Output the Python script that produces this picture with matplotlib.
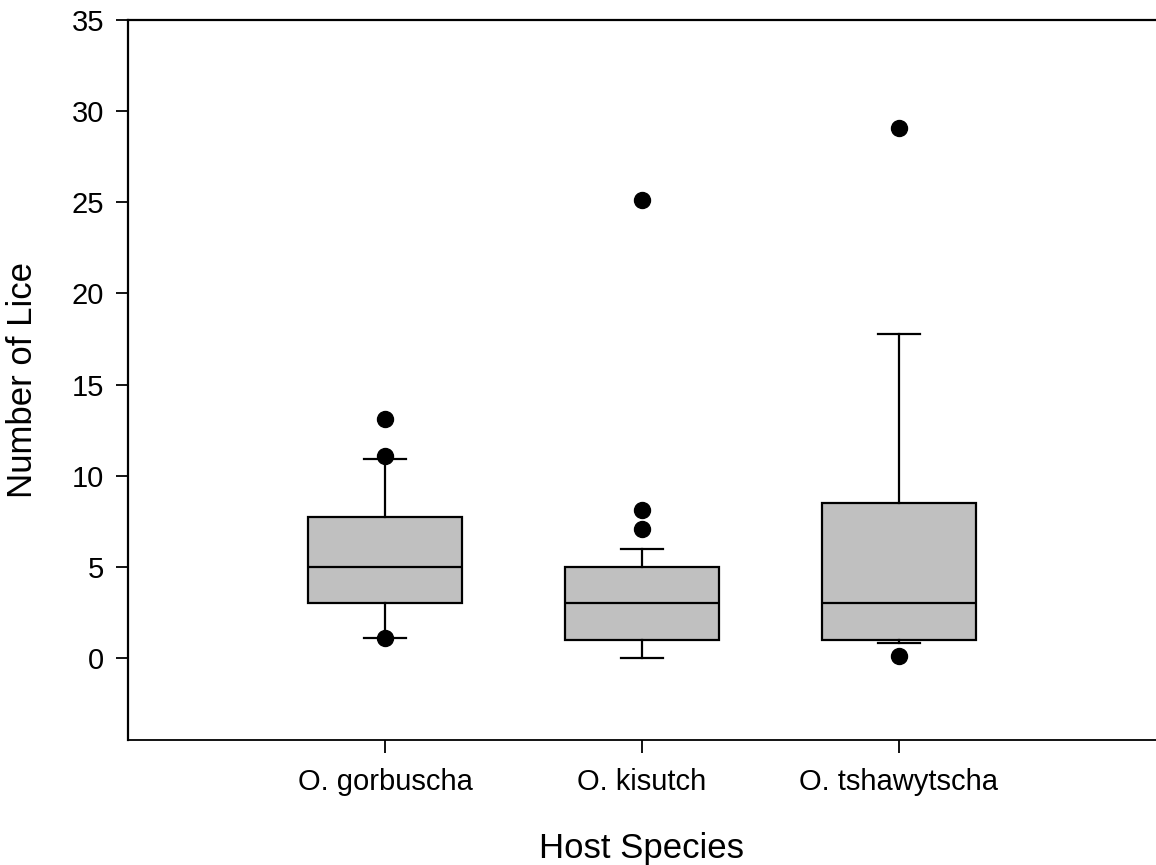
import matplotlib.pyplot as plt

plt.rcParams["font.family"] = ["Liberation Sans", "DejaVu Sans"]

# Lice counts per host species (box summary + outlying points)
species = ["O. gorbuscha", "O. kisutch", "O. tshawytscha"]
q1 = [3.0, 1.0, 1.0]
median = [5.0, 3.0, 3.0]
q3 = [7.75, 5.0, 8.5]
whisker_low = [1.1, 0.0, 0.8]
whisker_high = [10.9, 6.0, 17.8]
outliers = [
    [13.1, 11.1, 1.1],
    [25.1, 8.1, 7.1],
    [29.1, 0.1],
]

stats = [
    {
        "label": name,
        "q1": lo,
        "med": mid,
        "q3": hi,
        "whislo": wlo,
        "whishi": whi,
        "fliers": pts,
    }
    for name, lo, mid, hi, wlo, whi, pts in zip(species, q1, median, q3, whisker_low, whisker_high, outliers)
]

figure = plt.figure(figsize=(11.56, 8.65), dpi=100)
axis = figure.add_axes([0.1107, 0.1445, 0.8893, 0.8324])

line_style = {"color": "black", "linewidth": 1.6}
axis.bxp(
    stats,
    positions=[1, 2, 3],
    widths=0.6,
    capwidths=0.16,
    patch_artist=True,
    boxprops={"facecolor": "#c0c0c0", "edgecolor": "black", "linewidth": 1.6},
    medianprops=line_style,
    whiskerprops=line_style,
    capprops=line_style,
    flierprops={"marker": "o", "markerfacecolor": "black", "markeredgecolor": "black", "markersize": 11.5, "zorder": 4},
)

axis.set_xlim(0, 4)
axis.set_ylim(-4.5, 35)
axis.set_yticks(range(0, 36, 5))
axis.set_xticks([1, 2, 3], species)

axis.spines["right"].set_visible(False)
axis.spines["left"].set_linewidth(1.6)
axis.spines["top"].set_linewidth(1.6)
axis.spines["bottom"].set_linewidth(1.3)
axis.tick_params(axis="both", direction="out", length=9, width=1.3, labelsize=21)
axis.tick_params(axis="y", pad=8)
axis.tick_params(axis="x", pad=11)

axis.set_xlabel("Host Species", fontsize=25, labelpad=26)
axis.set_ylabel("Number of Lice", fontsize=25, labelpad=24)

figure.savefig("out.png", dpi=100)
